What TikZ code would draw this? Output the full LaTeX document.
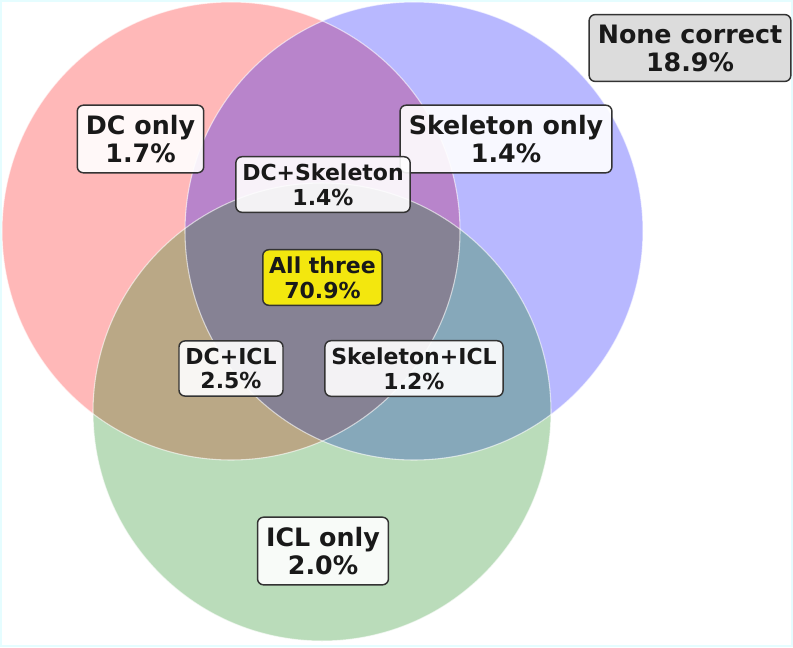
\documentclass[tikz,border=0pt]{standalone}
\usepackage{fontspec}
\setmainfont{DejaVu Sans}
\begin{document}
\begin{tikzpicture}[x=0.75pt,y=-0.75pt,
  venn/.style={draw=white,draw opacity=0.6,line width=0.8pt},
  lbl/.style={draw=black!80,line width=1.1pt,rounded corners=4.5pt,fill=white,fill opacity=0.9,text opacity=1,align=center,text=black!90,font=\bfseries},
  big/.style={lbl,font=\fontsize{19}{21}\selectfont\bfseries,inner xsep=6.5pt,inner ysep=7.5pt},
  small/.style={lbl,font=\fontsize{16.5}{18.5}\selectfont\bfseries,inner xsep=4.8pt,inner ysep=5.2pt}]
\fill[blue!8!cyan!10] (0,0) rectangle (793,647);
\fill[white] (2,2) rectangle (791,645);
\useasboundingbox (0,0) rectangle (793,647);
\fill[red,fill opacity=0.28] (231,231) circle[radius=229*0.75pt];
\fill[blue,fill opacity=0.28] (414,231) circle[radius=229*0.75pt];
\fill[green!50!black,fill opacity=0.27] (322,412) circle[radius=229*0.75pt];
\draw[venn] (231,231) circle[radius=229*0.75pt];
\draw[venn] (414,231) circle[radius=229*0.75pt];
\draw[venn] (322,412) circle[radius=229*0.75pt];
\node[big] (dc) at (140.5,139) {DC only\\1.7\%};
\node[big] (sk) at (506,139) {Skeleton only\\1.4\%};
\node[big] (icl) at (323,551) {ICL only\\2.0\%};
\node[big,fill=black!15] (none) at (690,48) {None correct\\18.9\%};
\node[small] (dcsk) at (323,184.5) {DC+Skeleton\\1.4\%};
\node[small,fill=yellow] (all) at (322.5,277.5) {All three\\70.9\%};
\node[small] (dcicl) at (231,368.5) {DC+ICL\\2.5\%};
\node[small] (skicl) at (414,368.5) {Skeleton+ICL\\1.2\%};
\end{tikzpicture}
\end{document}
